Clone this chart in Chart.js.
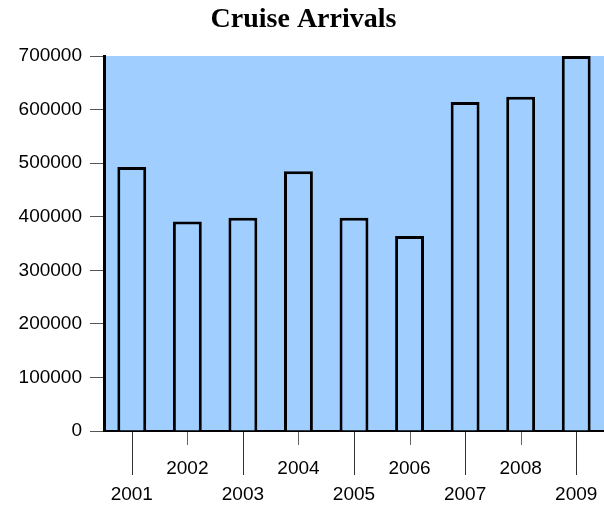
<!DOCTYPE html>
<html>
<head>
<meta charset="utf-8">
<script src="https://cdn.jsdelivr.net/npm/chart.js@4"></script>
<style>
  html, body { margin: 0; padding: 0; background: #fff; }
  #wrap { width: 604px; height: 508px; }
</style>
</head>
<body>
<div id="wrap"><canvas id="cruise-chart" width="604" height="508"></canvas></div>
<script>
const years = ['2001', '2002', '2003', '2004', '2005', '2006', '2007', '2008', '2009']
const arrivals = [493000, 391000, 398000, 485000, 398000, 364000, 614000, 624000, 700000]
const yTicks = [0, 100000, 200000, 300000, 400000, 500000, 600000, 700000]

const plotBlue = '#a0cfff'

// fond bleu de la zone du graphe
const plotBackground = {
    id: 'plotBackground',
    beforeDraw(chart) {
        const { ctx, chartArea } = chart
        ctx.save()
        ctx.fillStyle = plotBlue
        ctx.fillRect(chartArea.left, chartArea.top, chartArea.right - chartArea.left, chartArea.bottom - chartArea.top)
        ctx.restore()
    }
}

// petits traits sous l'axe x, un long un court
const staggerTicks = {
    id: 'staggerTicks',
    afterDraw(chart) {
        const { ctx } = chart
        const xScale = chart.scales.x
        ctx.save()
        ctx.lineWidth = 1
        for (let i = 0; i < years.length; i++) {
            const x = Math.round(xScale.getPixelForTick(i)) + 0.5
            ctx.strokeStyle = i % 2 === 0 ? '#333' : '#666'
            ctx.beginPath()
            ctx.moveTo(x, xScale.top + 1)
            ctx.lineTo(x, xScale.top + (i % 2 === 0 ? 44 : 14))
            ctx.stroke()
        }
        ctx.restore()
    }
}

new Chart(document.getElementById('cruise-chart'), {
    type: 'bar',
    data: {
        labels: years,
        datasets: [{
            data: arrivals,
            backgroundColor: plotBlue,
            borderColor: '#000',
            borderWidth: 3,
            categoryPercentage: 1,
            barPercentage: 0.52
        }]
    },
    options: {
        responsive: false,
        animation: false,
        layout: { padding: { left: 0, top: 0, bottom: 0, right: -3 } },
        plugins: {
            legend: { display: false },
            tooltip: { enabled: false },
            title: {
                display: true,
                text: 'Cruise Arrivals',
                color: '#000',
                font: { family: 'Liberation Serif', size: 28, weight: 'bold', lineHeight: 1.2 },
                padding: { top: 3, bottom: 19.4 }
            }
        },
        scales: {
            x: {
                offset: true,
                grid: { display: false, drawTicks: false },
                border: { display: true, color: '#000', width: 2 },
                ticks: {
                    color: '#000',
                    padding: 24,
                    maxRotation: 0,
                    autoSkip: false,
                    font: { family: 'Liberation Sans', size: 19, lineHeight: 1.4 },
                    callback: function (value, index) {
                        return index % 2 === 0 ? ['', years[index]] : years[index]
                    }
                },
                afterFit: function (scale) {
                    scale.height = 77
                    scale.paddingLeft = 0
                    scale.paddingRight = 0
                }
            },
            y: {
                min: 0,
                max: 700000,
                afterBuildTicks: function (scale) {
                    scale.ticks = yTicks.map(v => ({ value: v }))
                },
                grid: { drawOnChartArea: false, tickLength: 14, color: '#555', tickWidth: 1 },
                border: { display: true, color: '#000', width: 3 },
                ticks: {
                    color: '#000',
                    padding: 8,
                    font: { family: 'Liberation Sans', size: 19 },
                    callback: function (value) { return String(value) }
                },
                afterFit: function (scale) { scale.width = 104 }
            }
        }
    },
    plugins: [plotBackground, staggerTicks]
})
</script>
</body>
</html>
